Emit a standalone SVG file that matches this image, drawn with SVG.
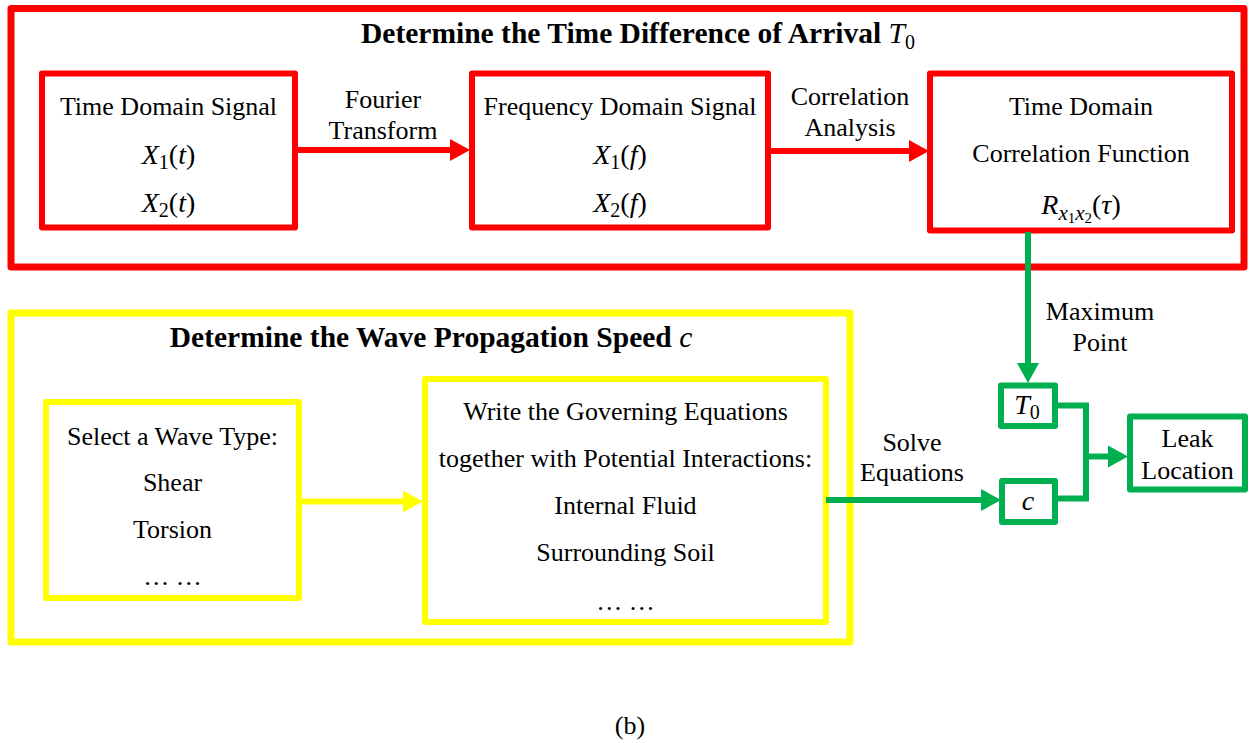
<svg xmlns="http://www.w3.org/2000/svg" width="1250" height="743" viewBox="0 0 1250 743">
  <style>
    text { font-family: "Liberation Serif", "Times New Roman", serif; fill: #000; text-anchor: middle; }
    .t { font-size: 26px; }
    .h { font-size: 29.5px; font-weight: bold; }
    .m { font-size: 28px; }
    .i { font-style: italic; }
    .red { fill: none; stroke: #FF0000; stroke-linejoin: round; }
    .yel { fill: none; stroke: #FFFF00; stroke-linejoin: round; }
    .grn { fill: none; stroke: #00B050; stroke-linejoin: round; }
    .outer { stroke-width: 7; }
    .box { stroke-width: 6; }
    .link { stroke-width: 6; fill: none; }
  </style>
  <defs>
    <marker id="headRed" markerUnits="userSpaceOnUse" markerWidth="20" markerHeight="22" refX="0" refY="11" orient="auto">
      <path d="M0,0 L20,11 L0,22 z" fill="#FF0000"/>
    </marker>
    <marker id="headYel" markerUnits="userSpaceOnUse" markerWidth="20" markerHeight="22" refX="0" refY="11" orient="auto">
      <path d="M0,0 L20,11 L0,22 z" fill="#FFFF00"/>
    </marker>
    <marker id="headGrn" markerUnits="userSpaceOnUse" markerWidth="20" markerHeight="22" refX="0" refY="11" orient="auto">
      <path d="M0,0 L20,11 L0,22 z" fill="#00B050"/>
    </marker>
  </defs>

  <rect width="1250" height="743" fill="#FFFFFF"/>

  <!-- Stage 1: time difference of arrival -->
  <g id="tdoa-stage">
    <rect class="red outer" x="11" y="8.5" width="1233" height="258.5"/>
    <text class="h" x="638" y="43">Determine the Time Difference of Arrival <tspan class="i" font-weight="normal">T</tspan><tspan font-weight="normal" font-size="20" dy="6">0</tspan></text>
  </g>

  <g id="time-signal">
    <rect class="red box" x="42" y="73.5" width="253" height="154"/>
    <text class="t" x="168.5" y="115">Time Domain Signal</text>
    <text class="m" x="168.5" y="164"><tspan class="i">X</tspan><tspan font-size="20" dy="5">1</tspan><tspan dy="-5">(</tspan><tspan class="i">t</tspan>)</text>
    <text class="m" x="168.5" y="212"><tspan class="i">X</tspan><tspan font-size="20" dy="5">2</tspan><tspan dy="-5">(</tspan><tspan class="i">t</tspan>)</text>
  </g>

  <g id="freq-signal">
    <rect class="red box" x="472" y="73.5" width="296" height="154"/>
    <text class="t" x="620" y="115">Frequency Domain Signal</text>
    <text class="m" x="620" y="164"><tspan class="i">X</tspan><tspan font-size="20" dy="5">1</tspan><tspan dy="-5">(</tspan><tspan class="i">f</tspan>)</text>
    <text class="m" x="620" y="212"><tspan class="i">X</tspan><tspan font-size="20" dy="5">2</tspan><tspan dy="-5">(</tspan><tspan class="i">f</tspan>)</text>
  </g>

  <g id="correlation">
    <rect class="red box" x="930" y="73.5" width="302" height="157"/>
    <text class="t" x="1081" y="115">Time Domain</text>
    <text class="t" x="1081" y="162">Correlation Function</text>
    <text class="m" x="1081" y="214"><tspan class="i">R</tspan><tspan class="i" font-size="21" dy="6">x</tspan><tspan font-size="15" dy="3">1</tspan><tspan class="i" font-size="21" dy="-3">x</tspan><tspan font-size="15" dy="3">2</tspan><tspan dy="-9">(</tspan><tspan class="i">τ</tspan>)</text>
  </g>

  <!-- Stage 2: wave propagation speed -->
  <g id="speed-stage">
    <rect class="yel outer" x="11" y="313" width="839" height="329"/>
    <text class="h" x="431" y="347">Determine the Wave Propagation Speed <tspan class="i" font-weight="normal">c</tspan></text>
  </g>

  <g id="wave-type">
    <rect class="yel box" x="46" y="402" width="253" height="196"/>
    <text class="t" x="172.5" y="445">Select a Wave Type:</text>
    <text class="t" x="172.5" y="491">Shear</text>
    <text class="t" x="172.5" y="538">Torsion</text>
    <text class="t" x="172.5" y="585">… …</text>
  </g>

  <g id="governing-eq">
    <rect class="yel box" x="425" y="379" width="401" height="243"/>
    <text class="t" x="625.5" y="420">Write the Governing Equations</text>
    <text class="t" x="625.5" y="467">together with Potential Interactions:</text>
    <text class="t" x="625.5" y="514">Internal Fluid</text>
    <text class="t" x="625.5" y="561">Surrounding Soil</text>
    <text class="t" x="625.5" y="610">… …</text>
  </g>

  <!-- Result boxes -->
  <g id="t0-box">
    <rect class="grn box" x="1001" y="385.5" width="54" height="40.5"/>
    <text class="m" x="1027" y="414"><tspan class="i">T</tspan><tspan font-size="20" dy="5">0</tspan></text>
  </g>

  <g id="c-box">
    <rect class="grn box" x="1002" y="481" width="53" height="41"/>
    <text class="m i" x="1028" y="510">c</text>
  </g>

  <g id="leak-location">
    <rect class="grn box" x="1130" y="416.5" width="115" height="73"/>
    <text class="t" x="1187.5" y="447">Leak</text>
    <text class="t" x="1187.5" y="479">Location</text>
  </g>

  <!-- Connectors -->
  <g id="connectors">
    <path class="link" stroke="#FF0000" d="M295,150 H450" marker-end="url(#headRed)"/>
    <text class="t" x="383" y="108">Fourier</text>
    <text class="t" x="383" y="139">Transform</text>

    <path class="link" stroke="#FF0000" d="M768,151 H909" marker-end="url(#headRed)"/>
    <text class="t" x="850" y="105">Correlation</text>
    <text class="t" x="850" y="136">Analysis</text>

    <path class="link" stroke="#FFFF00" d="M299,501.5 H403" marker-end="url(#headYel)"/>

    <path class="link" stroke="#00B050" d="M1028,232 V363" marker-end="url(#headGrn)"/>
    <text class="t" x="1100" y="320">Maximum</text>
    <text class="t" x="1100" y="351">Point</text>

    <path class="link" stroke="#00B050" d="M826,500 H981" marker-end="url(#headGrn)"/>
    <text class="t" x="912" y="451">Solve</text>
    <text class="t" x="912" y="481">Equations</text>

    <path class="link" stroke="#00B050" stroke-linejoin="miter" d="M1055,405.5 H1086 V498.5 H1055"/>
    <path class="link" stroke="#00B050" d="M1086,456.5 H1108" marker-end="url(#headGrn)"/>
  </g>

  <text class="t" x="630" y="734">(b)</text>
</svg>
